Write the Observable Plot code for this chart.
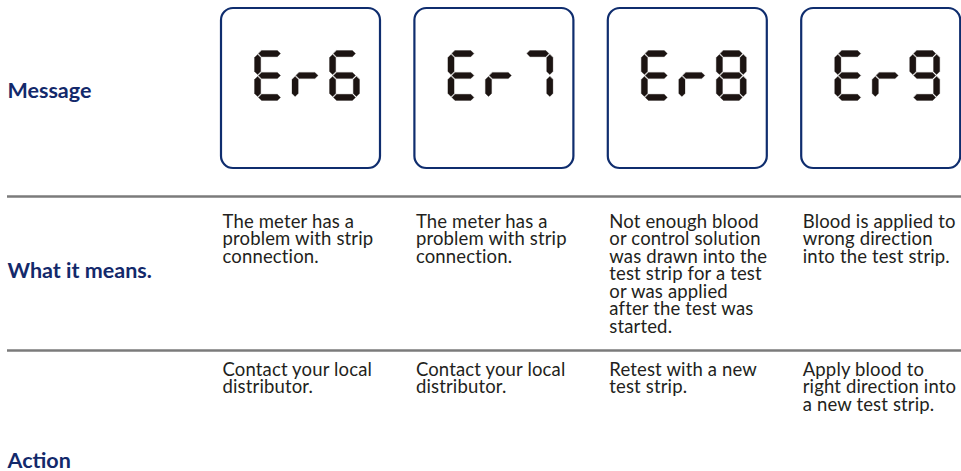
<!DOCTYPE html>
<html>
<head>
<meta charset="utf-8">
<script src="https://cdn.jsdelivr.net/npm/d3@7"></script>
<script src="https://cdn.jsdelivr.net/npm/@observablehq/plot@0.6"></script>
<style>
  html, body { margin: 0; padding: 0; background: #ffffff; }
  svg { display: block; }
</style>
</head>
<body>
<div id="chart"></div>
<script>
// ---- data ----
const codes = ["Er6", "Er7", "Er8", "Er9"];
const rowLabels = ["Message", "What it means.", "Action"];
const meanings = [
  "The meter has a\nproblem with strip\nconnection.",
  "The meter has a\nproblem with strip\nconnection.",
  "Not enough blood\nor control solution\nwas drawn into the\ntest strip for a test\nor was applied\nafter the test was\nstarted.",
  "Blood is applied to\nwrong direction\ninto the test strip."
];
const actions = [
  "Contact your local\ndistributor.",
  "Contact your local\ndistributor.",
  "Retest with a new\ntest strip.",
  "Apply blood to\nright direction into\na new test strip."
];
// seven-segment glyph table (which segments are lit)
const glyphSegments = {E: "adefg", r: "eg", "6": "acdefg", "7": "abc", "8": "abcdefg", "9": "abcdfg"};

// ---- layout ----
const W = 961, H = 471;
const colX = codes.map((_, i) => 221 + i * 193.4);
const boxW = 159, boxTop = 8, boxH = 160;
const lineY = [196, 350];
const navy = "#13296b", ink = "#231f20";
const fontBody = 18.5, fontLabel = 21.5, lh = 17.5;

// seven-segment geometry
const gw = 30, gh = 50, gt = 6.2, gap = 0.9, pitch = 37.5;
function skeleton(s) {
  const L = gt / 2, R = gw - gt / 2, T = gt / 2, M = gh / 2, B = gh - gt / 2;
  return {a: [[L, T], [R, T]], g: [[L, M], [R, M]], d: [[L, B], [R, B]],
          f: [[L, T], [L, M]], b: [[R, T], [R, M]], e: [[L, M], [L, B]], c: [[R, M], [R, B]]}[s];
}
function hexagon(p0, p1) {
  const dx = p1[0] - p0[0], dy = p1[1] - p0[1], len = Math.hypot(dx, dy);
  const ux = dx / len, uy = dy / len, nx = -uy, ny = ux, h = gt / 2;
  const P = (p, a, b) => [p[0] + ux * a + nx * b, p[1] + uy * a + ny * b];
  return [P(p0, gap, 0), P(p0, gap + h, h), P(p1, -gap - h, h), P(p1, -gap, 0), P(p1, -gap - h, -h), P(p0, gap + h, -h)];
}
const segPts = [];
codes.forEach((code, i) => {
  const ox = colX[i] + 33, oy = 50;
  [...code].forEach((ch, k) => {
    for (const s of glyphSegments[ch]) {
      const [p0, p1] = skeleton(s);
      hexagon(p0, p1).forEach(([x, y]) => segPts.push({id: `${i}-${k}-${s}`, x: ox + k * pitch + x, y: oy + y}));
    }
  });
});

const boxes = codes.map((c, i) => ({x1: colX[i], x2: colX[i] + boxW, y1: boxTop, y2: boxTop + boxH}));
const labelRows = rowLabels.map((t, i) => ({t, y: [97, 277, 467][i] - 0.71 * fontLabel}));
const meanRows = meanings.map((t, i) => ({t, x: colX[i] + 1, y: 228 - 0.71 * fontBody}));
const actRows = actions.map((t, i) => ({t, x: colX[i] + 1, y: 376 - 0.71 * fontBody}));

const chart = Plot.plot({
  width: W, height: H,
  margin: 0,
  style: {fontFamily: "Lato, 'Open Sans', sans-serif", background: "#ffffff"},
  x: {domain: [0, W], range: [0, W], axis: null},
  y: {domain: [0, H], range: [0, H], axis: null},
  marks: [
    Plot.ruleY(lineY, {x1: 7, x2: W, stroke: "#7b7b7b", strokeWidth: 2.6}),
    Plot.rect(boxes, {x1: "x1", x2: "x2", y1: "y1", y2: "y2", rx: 12, fill: "white", stroke: "#0f2d6e", strokeWidth: 2.2}),
    Plot.line(segPts, {x: "x", y: "y", z: "id", curve: "linear-closed", fill: "#1c1412", stroke: "#1c1412", strokeWidth: 0.3}),
    Plot.text(labelRows, {x: 7, y: "y", text: "t", textAnchor: "start", lineAnchor: "top", fontSize: fontLabel, fontWeight: "bold", fill: navy}),
    Plot.text(meanRows, {x: "x", y: "y", text: "t", textAnchor: "start", lineAnchor: "top", fontSize: fontBody, lineHeight: lh / fontBody, fill: ink}),
    Plot.text(actRows, {x: "x", y: "y", text: "t", textAnchor: "start", lineAnchor: "top", fontSize: fontBody, lineHeight: lh / fontBody, fill: ink})
  ]
});
chart.querySelectorAll("text").forEach(t => {
  if (!t.closest("[font-weight='bold']")) t.style.letterSpacing = "0.15px";
});
document.getElementById("chart").appendChild(chart);
</script>
</body>
</html>
